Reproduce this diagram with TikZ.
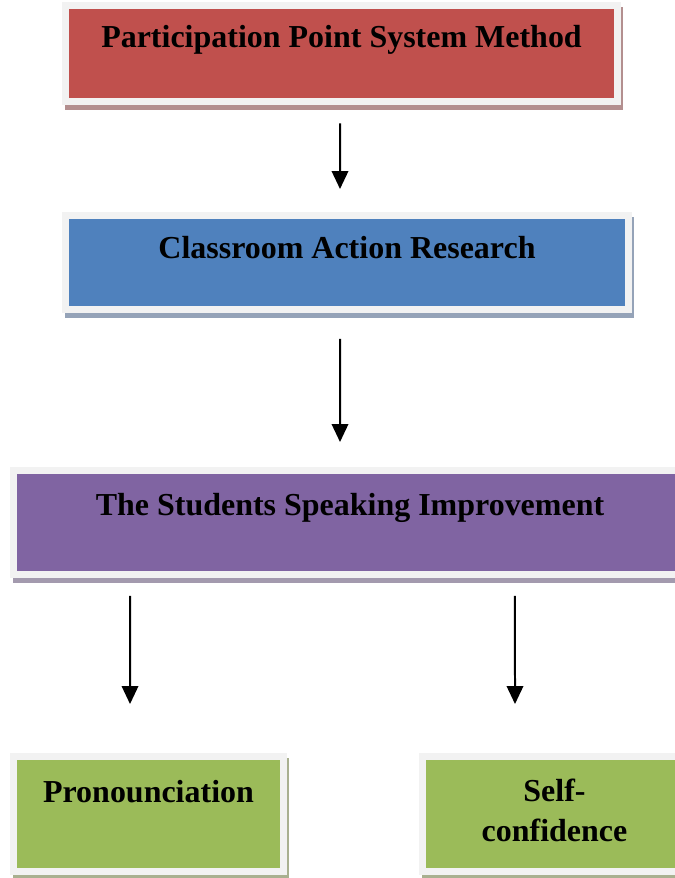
\documentclass[tikz,border=0pt]{standalone}
\usepackage{fontspec}
\setmainfont{Liberation Serif}
\usetikzlibrary{arrows.meta}

\definecolor{boxred}{HTML}{C0504D}
\definecolor{boxblue}{HTML}{4F81BD}
\definecolor{boxpurple}{HTML}{8064A2}
\definecolor{boxgreen}{HTML}{9BBB59}
\definecolor{shred}{HTML}{B38F8F}
\definecolor{shblue}{HTML}{95A3B8}
\definecolor{shpurple}{HTML}{A39AAE}
\definecolor{shgreen}{HTML}{A9B090}
\definecolor{frame}{HTML}{F2F2F2}

\begin{document}
\begin{tikzpicture}[x=0.02cm,y=-0.02cm]
    \tikzstyle{box}=[rectangle,inner sep=0pt,draw=frame,line width=0.14cm,
        font=\fontsize{18.2}{23.3}\selectfont\bfseries,text height=0.4cm]
    \tikzstyle{shade}=[preaction={draw=#1,fill=#1,transform canvas={xshift=0.05cm,yshift=-0.1cm}}]
    \tikzstyle{arrow}=[draw=black,line width=0.04cm,-{Triangle[length=0.36cm,width=0.33cm]}]

    \useasboundingbox (0,0) rectangle (675,878);

    \node[box,shade=shred,fill=boxred,minimum width=11.04cm,minimum height=1.94cm,text depth=0.62cm]
        (b1) at (341.5,53.5) {Participation Point System Method};
    \node[box,shade=shblue,fill=boxblue,minimum width=11.26cm,minimum height=1.88cm,text depth=0.54cm]
        (b2) at (347,262.5) {Classroom Action Research};
    \node[box,shade=shpurple,fill=boxpurple,minimum width=13.46cm,minimum height=2.08cm,text depth=0.7cm]
        (b3) at (350,522.5) {The Students Speaking Improvement};
    \node[box,shade=shgreen,fill=boxgreen,minimum width=5.4cm,minimum height=2.3cm,text depth=0.88cm]
        (b4) at (148.5,814) {Pronounciation};
    \node[box,shade=shgreen,fill=boxgreen,minimum width=5.28cm,minimum height=2.3cm,text depth=0.92cm,
        text width=4.6cm,align=center]
        (b5) at (554.5,814) {Self-\\confidence};

    \draw[arrow,shorten <=0.36cm,shorten >=0.46cm] ([xshift=-0.03cm]b1.south) -- ([xshift=-0.14cm]b2.north);
    \draw[arrow,shorten <=0.52cm,shorten >=0.5cm] ([xshift=-0.14cm]b2.south) -- ([xshift=-0.2cm]b3.north);
    \draw[arrow,shorten <=0.36cm,shorten >=0.98cm] ([xshift=-4.4cm]b3.south) -- ([xshift=-0.37cm]b4.north);
    \draw[arrow,shorten <=0.36cm,shorten >=0.98cm] ([xshift=3.3cm]b3.south) -- ([xshift=-0.79cm]b5.north);
\end{tikzpicture}
\end{document}
